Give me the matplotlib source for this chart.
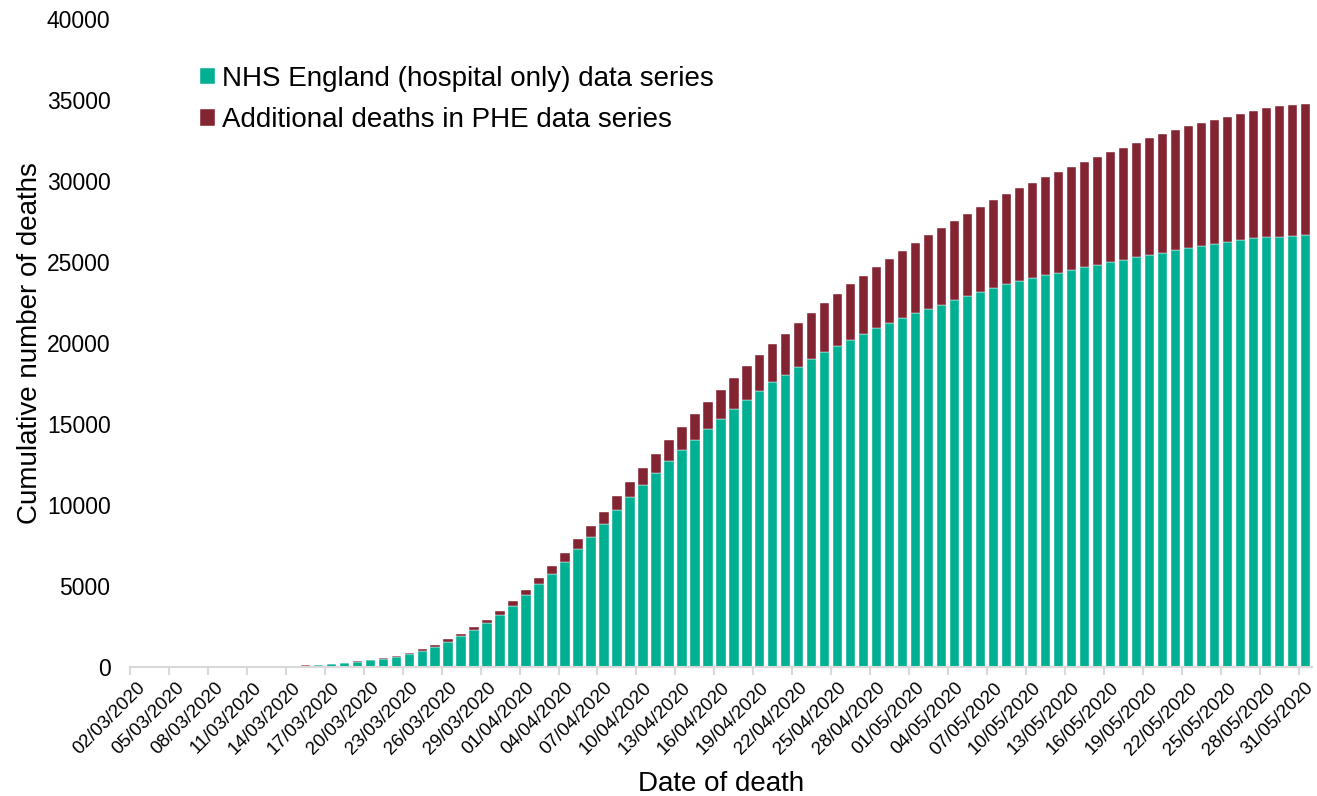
import datetime as dt

import matplotlib.pyplot as plt
import numpy as np
from matplotlib import use

use('agg')
plt.rcParams['font.family'] = ['Liberation Sans', 'DejaVu Sans']

# cumulative deaths by date of death, 02/03/2020 .. 31/05/2020
start_date = dt.date(2020, 3, 2)
n_days = 91
dates = [start_date + dt.timedelta(days=i) for i in range(n_days)]
date_labels = [d.strftime('%d/%m/%Y') for d in dates]

nhs_hospital = [
    0, 1, 1, 2, 3, 4, 5, 7, 9, 12,
    18, 28, 60, 95, 140, 200, 260, 340, 440, 520,
    648, 800, 1010, 1245, 1574, 1923, 2294, 2705, 3200, 3776,
    4433, 5113, 5772, 6512, 7273, 8013, 8838, 9722, 10482, 11225,
    11986, 12705, 13405, 14043, 14704, 15340, 15939, 16513, 17025, 17605,
    18056, 18550, 19001, 19457, 19827, 20198, 20568, 20914, 21223, 21556,
    21865, 22112, 22377, 22630, 22889, 23161, 23408, 23630, 23815, 24044,
    24186, 24352, 24519, 24679, 24846, 25013, 25155, 25297, 25445, 25587,
    25754, 25877, 26000, 26124, 26223, 26346, 26470, 26556, 26575, 26637,
    26698,
]

phe_total = [
    0, 1, 1, 2, 3, 4, 5, 7, 10, 13,
    20, 32, 70, 110, 155, 216, 278, 360, 463, 550,
    705, 885, 1100, 1389, 1710, 2068, 2458, 2932, 3467, 4063,
    4763, 5484, 6224, 7068, 7890, 8692, 9598, 10585, 11450, 12293,
    13158, 14022, 14800, 15600, 16370, 17111, 17852, 18569, 19272, 19951,
    20587, 21247, 21865, 22482, 23056, 23630, 24148, 24679, 25198, 25692,
    26204, 26680, 27087, 27544, 27976, 28400, 28840, 29210, 29581, 29908,
    30235, 30568, 30852, 31185, 31494, 31803, 32068, 32377, 32643, 32914,
    33179, 33408, 33593, 33778, 33963, 34167, 34352, 34538, 34661, 34723,
    34785,
]

nhs = np.array(nhs_hospital)
additional = np.array(phe_total) - nhs

TEAL = '#00b092'
MAROON = '#832433'
GREY = '#d9d9d9'

fig = plt.figure(figsize=(13.17, 7.96), dpi=100)
ax = fig.add_axes([0.0987, 0.162, 0.8973, 0.814])

x = np.arange(n_days)
ax.bar(x, nhs, width=0.72, color=TEAL, edgecolor='white', linewidth=0.3,
       label='NHS England (hospital only) data series')
ax.bar(x, additional, bottom=nhs, width=0.72, color=MAROON, edgecolor='white',
       linewidth=0.3, label='Additional deaths in PHE data series')

ax.set_xlim(-0.5, n_days - 0.5)
ax.set_ylim(0, 40000)
ax.set_yticks(np.arange(0, 40001, 5000))
ax.tick_params(axis='y', length=0, labelsize=16.5, pad=14)

# labels on every third day, tick marks on category boundaries
ax.set_xticks(x[::3])
ax.set_xticklabels(date_labels[::3], rotation=45, ha='right', va='top',
                   rotation_mode='anchor', fontsize=13.5)
ax.tick_params(axis='x', which='major', length=0, pad=9)
ax.set_xticks(np.arange(-0.5, n_days, 3), minor=True)
ax.tick_params(axis='x', which='minor', length=6, width=1.5, color=GREY)

for side in ['top', 'right', 'left']:
    ax.spines[side].set_visible(False)
ax.spines['bottom'].set_color(GREY)
ax.spines['bottom'].set_linewidth(1.5)

ax.set_ylabel('Cumulative number of deaths', fontsize=20)
ax.yaxis.set_label_coords(-0.074, 0.5)
ax.set_xlabel('Date of death', fontsize=20, labelpad=9)

ax.legend(loc='upper left', bbox_to_anchor=(0.05, 0.945), frameon=False,
          fontsize=20, handlelength=0.55, handleheight=0.55, handletextpad=0.25,
          labelspacing=0.55, borderaxespad=0)

fig.savefig('out.png', dpi=100)
plt.close(fig)
